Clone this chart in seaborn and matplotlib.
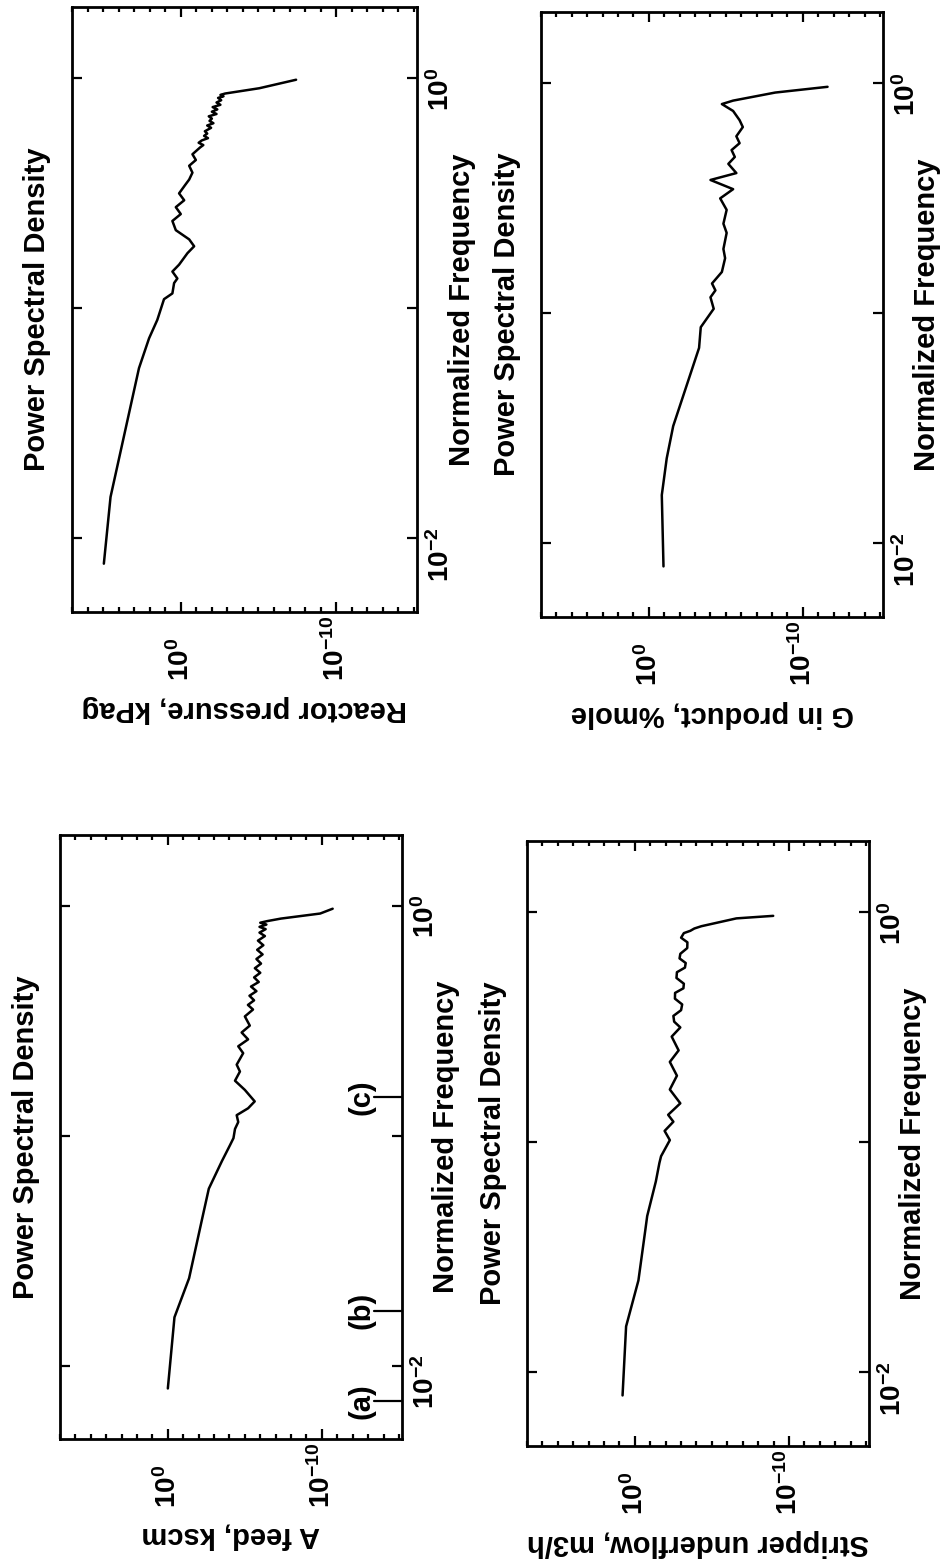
import numpy as np
import pandas as pd
import matplotlib
matplotlib.use("Agg")
import matplotlib.pyplot as plt
import matplotlib.ticker as mticker
import seaborn as sns

sns.set_theme(style="white")
plt.rcParams["font.family"] = ["Liberation Sans", "DejaVu Sans"]
plt.rcParams["font.weight"] = "bold"
plt.rcParams["mathtext.fontset"] = "custom"
plt.rcParams["mathtext.rm"] = "Liberation Sans:bold"
plt.rcParams["mathtext.default"] = "regular"
plt.rcParams["text.color"] = "black"
plt.rcParams["axes.labelcolor"] = "black"
plt.rcParams["xtick.color"] = "black"
plt.rcParams["ytick.color"] = "black"

# values (log10 of normalized frequency, log10 of PSD)
rp_logf = [-2.11, -1.82, -1.26, -1.13, -1.05, -0.96, -0.935, -0.89, -0.87, -0.84, -0.81, -0.76,
           -0.73, -0.70, -0.66, -0.62, -0.59, -0.56, -0.53, -0.50, -0.46, -0.44, -0.41, -0.38,
           -0.355, -0.33, -0.30, -0.29, -0.28, -0.27, -0.26, -0.25, -0.24, -0.23, -0.215, -0.205,
           -0.195, -0.185, -0.175, -0.165, -0.155, -0.145, -0.135, -0.125, -0.115, -0.105, -0.095,
           -0.085, -0.078, -0.072, -0.066, -0.043, -0.006]
rp_logpsd = [4.95, 4.52, 2.69, 2.04, 1.51, 1.08, 0.54, 0.43, 0.22, 0.54, 0.11, -0.43,
             -0.86, -0.54, 0.32, 0.54, 0.0, 0.32, -0.22, 0.11, -0.32, -0.54, -0.75, -0.54,
             -0.97, -0.75, -1.25, -1.45, -1.15, -1.35, -1.75, -1.5, -1.7, -1.55, -1.95, -1.7,
             -2.1, -1.85, -2.0, -1.8, -2.3, -2.0, -2.35, -2.05, -2.55, -2.3, -2.6,
             -2.4, -2.75, -2.55, -2.85, -5.05, -7.42]

gp_logf = [-2.10, -1.79, -1.63, -1.49, -1.32, -1.15, -1.06, -0.98, -0.93, -0.90, -0.87, -0.82,
           -0.76, -0.72, -0.65, -0.61, -0.55, -0.50, -0.46, -0.42, -0.39, -0.35, -0.32, -0.29,
           -0.26, -0.23, -0.19, -0.16, -0.12, -0.09, -0.075, -0.04, -0.015]
gp_logpsd = [-0.95, -0.84, -1.16, -1.58, -2.42, -3.26, -3.37, -4.21, -4.0, -4.32, -4.1, -4.74,
             -4.95, -4.84, -5.05, -4.84, -5.05, -4.63, -5.47, -4.0, -5.68, -5.16, -5.58, -5.37,
             -5.89, -5.68, -6.1, -5.89, -5.47, -4.74, -5.47, -8.2, -11.6]

af_logf = [-2.10, -1.79, -1.62, -1.36, -1.23, -1.11, -1.04, -1.01, -0.97, -0.94, -0.91, -0.88,
           -0.85, -0.80, -0.76, -0.72, -0.69, -0.64, -0.61, -0.58, -0.55, -0.52, -0.48, -0.45,
           -0.43, -0.41, -0.39, -0.37, -0.35, -0.33, -0.31, -0.29, -0.27, -0.25, -0.23, -0.21,
           -0.19, -0.17, -0.15, -0.13, -0.115, -0.10, -0.09, -0.08, -0.072, -0.065, -0.054,
           -0.032, -0.011]
af_logpsd = [0.0, -0.43, -1.38, -2.23, -2.66, -3.51, -4.04, -4.26, -4.36, -4.57, -4.47, -5.21,
             -5.64, -5.0, -4.36, -4.68, -4.47, -4.89, -4.57, -5.21, -4.79, -5.32, -5.0, -5.53,
             -5.2, -5.6, -5.3, -5.75, -5.4, -5.9, -5.6, -6.0, -5.65, -6.05, -5.75, -6.15,
             -5.8, -6.2, -5.85, -6.3, -5.95, -6.35, -5.95, -6.4, -6.0, -6.45, -7.34,
             -9.89, -10.7]

su_logf = [-2.10, -1.80, -1.60, -1.38, -1.32, -1.17, -1.09, -1.06, -0.99, -0.95, -0.91, -0.88,
           -0.83, -0.77, -0.71, -0.65, -0.60, -0.54, -0.50, -0.475, -0.45, -0.425, -0.40, -0.375,
           -0.35, -0.33, -0.31, -0.285, -0.26, -0.24, -0.22, -0.20, -0.18, -0.155, -0.13, -0.11,
           -0.09, -0.08, -0.07, -0.06, -0.026, -0.015]
su_logpsd = [0.80, 0.57, -0.23, -0.68, -0.80, -1.36, -1.59, -1.70, -2.27, -1.93, -2.5, -2.16,
             -2.95, -2.27, -2.73, -2.27, -2.84, -2.39, -2.95, -2.55, -2.5, -3.0, -3.07, -2.6,
             -2.61, -3.15, -3.18, -2.7, -2.73, -3.25, -3.30, -2.9, -2.95, -3.4, -3.41, -3.0,
             -3.18, -3.6, -3.86, -4.32, -6.59, -8.98]

panel_names = ["Reactor pressure, kPag", "G in product, %mole",
               "A feed, kscm", "Stripper underflow, m3/h"]

marker_freqs = [0.0070, 0.0173, 0.148]
marker_labels = ["(a)", "(b)", "(c)"]

fig = plt.figure(figsize=(9.51, 15.66), dpi=100)

rects = [
    [0.0757, 0.6092, 0.3628, 0.3863],
    [0.5689, 0.6060, 0.3596, 0.3863],
    [0.0631, 0.0811, 0.3596, 0.3857],
    [0.5542, 0.0766, 0.3596, 0.3863],
]
curves = [(rp_logf, rp_logpsd), (gp_logf, gp_logpsd),
          (af_logf, af_logpsd), (su_logf, su_logpsd)]

for i in range(4):
    ax = fig.add_axes(rects[i])
    lf, lp = curves[i]
    df = pd.DataFrame({"psd": 10.0 ** np.array(lp), "freq": 10.0 ** np.array(lf)})
    sns.lineplot(data=df, x="psd", y="freq", sort=False, estimator=None,
                 color="black", linewidth=1.8, ax=ax)

    ax.set_xscale("log")
    ax.set_yscale("log")
    ax.set_xlim(1e7, 10 ** -15.2)
    ax.set_ylim(10 ** -2.32, 10 ** 0.31)

    ax.xaxis.set_major_locator(mticker.FixedLocator([1e0, 1e-10]))
    ax.xaxis.set_major_formatter(mticker.FixedFormatter(["$10^{0}$", "$10^{-10}$"]))
    ax.xaxis.set_minor_locator(mticker.FixedLocator([10.0 ** k for k in range(-15, 8) if k not in (0, -10)]))
    ax.xaxis.set_minor_formatter(mticker.NullFormatter())

    ax.yaxis.set_major_locator(mticker.FixedLocator([1e-2, 1e-1, 1e0]))
    ax.yaxis.set_major_formatter(mticker.FixedFormatter(["$10^{-2}$", "", "$10^{0}$"]))
    ax.yaxis.set_minor_locator(mticker.NullLocator())

    ax.tick_params(axis="x", which="both", direction="in", top=True, bottom=True,
                   labelrotation=90, labelsize=20, pad=50, width=1.6, colors="black")
    ax.tick_params(axis="x", which="major", length=7)
    ax.tick_params(axis="x", which="minor", length=3.5)
    ax.tick_params(axis="y", which="major", direction="in", left=True, right=True,
                   labelleft=False, labelright=True, labelrotation=90, labelsize=20,
                   pad=7, length=7, width=1.6, colors="black")
    for t in ax.get_xticklabels():
        t.set_verticalalignment("bottom")

    for s in ax.spines.values():
        s.set_linewidth(2.0)
        s.set_color("black")

    ax.set_xlabel(panel_names[i], rotation=180, fontsize=21, fontweight="bold", color="black")
    ax.xaxis.set_label_coords(0.5, -0.16)
    ax.xaxis.label.set_verticalalignment("center")
    ax.yaxis.set_label_position("right")
    ax.set_ylabel("Normalized Frequency", fontsize=21, fontweight="bold", color="black")
    ax.yaxis.set_label_coords(1.13, 0.5)
    ax.yaxis.label.set_horizontalalignment("center")
    ax.yaxis.label.set_verticalalignment("center")
    ax.text(-0.10, 0.5, "Power Spectral Density", rotation=90, fontsize=21,
            fontweight="bold", color="black", transform=ax.transAxes,
            ha="center", va="center")

    if i == 2:
        for f, lab in zip(marker_freqs, marker_labels):
            ax.plot([10 ** -15.2, 10 ** -13.4], [f, f], color="black", linewidth=1.6)
            ax.text(10 ** -12.6, f, lab, rotation=90, fontsize=21, fontweight="bold",
                    color="black", ha="center", va="center")

fig.savefig("out.png", dpi=100)
